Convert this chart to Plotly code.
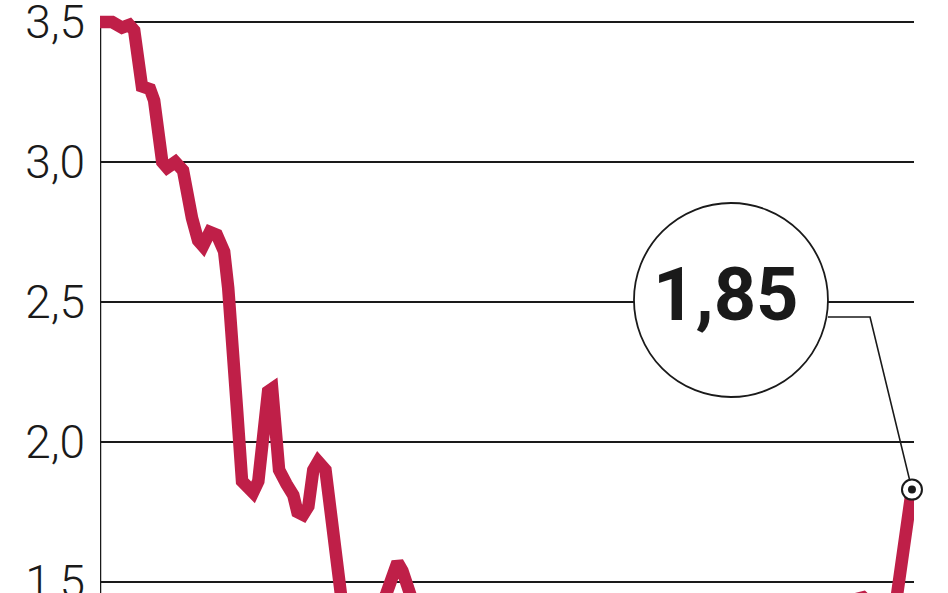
import plotly.graph_objects as go

# ---- data ----
period = [0, 3.0, 5.4, 7.2, 8.4, 10.3, 12.3, 13.3, 15.3, 16.5, 18.5, 20.4,
          22.6, 24.1, 25.3, 27.0, 28.7, 30.5, 31.5, 32.5, 33.7, 34.9, 36.2,
          37.6, 38.9, 40.1, 41.3, 42.3, 43.0, 44.0, 45.8, 47.5, 48.5, 49.9,
          51.2, 52.4, 53.6, 55.4, 56.6, 58.1, 59.5, 61.5, 64.0, 66.9, 68.9,
          70.4, 71.8, 73.1, 74.3, 75.8, 77.5, 81.2, 88.6, 98.4, 108.2, 118.0,
          127.9, 137.8, 147.6, 157.4, 167.3, 177.1, 183.3, 186.0, 187.5,
          189.4, 193.1, 195.6, 199.5]
values = [3.50, 3.50, 3.48, 3.49, 3.47, 3.27, 3.26, 3.22, 3.00, 2.98, 3.00,
          2.97, 2.80, 2.72, 2.70, 2.75, 2.74, 2.68, 2.55, 2.40, 2.11, 1.86,
          1.84, 1.82, 1.86, 2.08, 2.18, 2.19, 2.01, 1.90, 1.85, 1.81, 1.75,
          1.74, 1.77, 1.90, 1.93, 1.90, 1.76, 1.58, 1.42, 1.38, 1.36, 1.38,
          1.41, 1.46, 1.54, 1.57, 1.54, 1.46, 1.40, 1.36, 1.33, 1.35, 1.38,
          1.36, 1.32, 1.34, 1.37, 1.35, 1.38, 1.40, 1.42, 1.44, 1.445, 1.42,
          1.40, 1.43, 1.83]
y_ticks = [1.5, 2.0, 2.5, 3.0, 3.5]
y_tick_labels = ["1,5", "2,0", "2,5", "3,0", "3,5"]
last_label = "1,85"

# ---- layout constants ----
W, H = 948, 593
ML, MR = 100, 34
X_RANGE = [0, 200]
Y_RANGE = [1.4607, 3.5786]
RED = "#BF1F48"
INK = "#1a1a1a"


def paper_to_data(px, py):
    x = X_RANGE[0] + px * (X_RANGE[1] - X_RANGE[0])
    y = Y_RANGE[0] + py * (Y_RANGE[1] - Y_RANGE[0])
    return x, y


fig = go.Figure()

fig.add_trace(go.Scatter(
    x=period, y=values, mode="lines",
    line=dict(color=RED, width=12.5),
    hoverinfo="skip", showlegend=False,
))
# end-point marker (ring + dot)
fig.add_trace(go.Scatter(
    x=[period[-1]], y=[values[-1]], mode="markers",
    marker=dict(size=20, color="white", line=dict(color=INK, width=2)),
    cliponaxis=False, hoverinfo="skip", showlegend=False,
))
fig.add_trace(go.Scatter(
    x=[period[-1]], y=[values[-1]], mode="markers",
    marker=dict(size=8, color=INK),
    cliponaxis=False, hoverinfo="skip", showlegend=False,
))

# vertical axis line starting at the top tick
fig.add_shape(type="line", xref="x", yref="y",
              x0=period[0], x1=period[0], y0=y_ticks[-1], y1=Y_RANGE[0],
              line=dict(color=INK, width=2.5), layer="below")

# callout circle
cx0, cx1, cy0, cy1 = 0.656, 0.8943, 0.3305, 0.6577
fig.add_shape(type="circle", xref="paper", yref="paper",
              x0=cx0, x1=cx1, y0=cy0, y1=cy1,
              fillcolor="white", line=dict(color=INK, width=1.8), layer="above")
fig.add_annotation(xref="paper", yref="paper",
                   x=(cx0 + cx1) / 2 - 0.006, y=0.503,
                   text=f"<b>{last_label}</b>", showarrow=False,
                   font=dict(family="Roboto", size=74, color=INK, weight=700),
                   xanchor="center", yanchor="middle")

# leader line: circle edge -> elbow -> end point
ex0, ey = paper_to_data(cx1, 0.4654)
ex1, _ = paper_to_data(0.946, 0.4654)
fig.add_shape(type="path", xref="x", yref="y",
              path=f"M {ex0},{ey} L {ex1},{ey} L {period[-1]},{values[-1]}",
              line=dict(color=INK, width=1.6), layer="below")

fig.update_layout(
    width=W, height=H,
    margin=dict(l=ML, r=MR, t=0, b=0, pad=0, autoexpand=False),
    paper_bgcolor="white", plot_bgcolor="white",
    showlegend=False,
    xaxis=dict(range=X_RANGE, showgrid=False, zeroline=False,
               showticklabels=False, showline=False, fixedrange=True,
               automargin=False),
    yaxis=dict(range=Y_RANGE, tickvals=y_ticks, ticktext=y_tick_labels,
               showgrid=True, gridcolor=INK, gridwidth=2.5,
               zeroline=False, showline=False, ticks="",
               ticklabelstandoff=14, ticklabeloverflow="allow",
               automargin=False,
               tickfont=dict(family="Roboto", size=46, color=INK, weight=300),
               fixedrange=True),
)

fig.write_html("out.html",
               config={"displayModeBar": False, "staticPlot": True},
               post_script="document.body.style.margin='0';"
                           "document.body.style.overflow='hidden';")
